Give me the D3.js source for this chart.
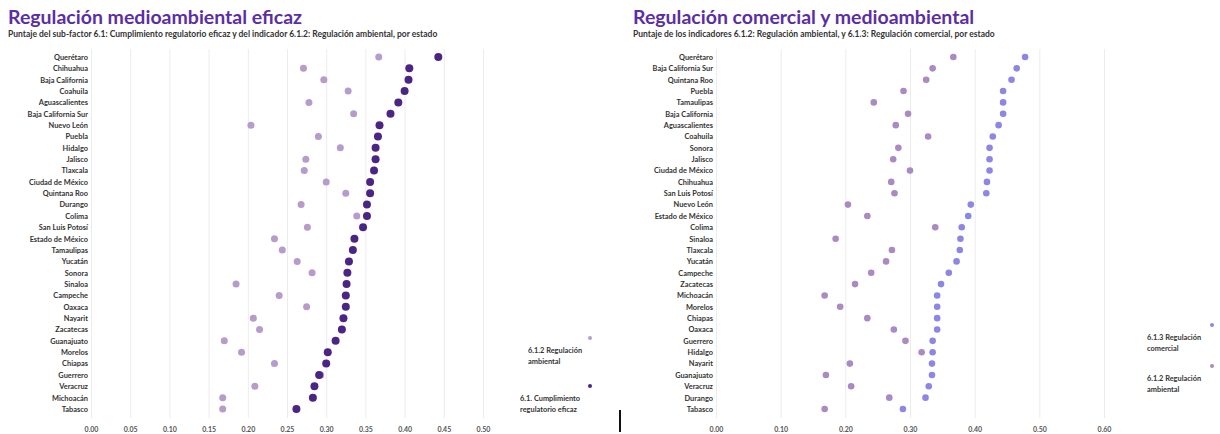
<!DOCTYPE html>
<html>
<head>
<meta charset="utf-8">
<script src="https://cdn.jsdelivr.net/npm/d3@7"></script>
<style>
  body { margin: 0; background: #fff; }
  svg { font-family: Lato, "Noto Sans", sans-serif; }
</style>
</head>
<body>
<div id="chart"></div>
<script>
// Datos: panel izquierdo (ordenado por 6.1)
var leftStates = ["Querétaro", "Chihuahua", "Baja California", "Coahuila", "Aguascalientes",
  "Baja California Sur", "Nuevo León", "Puebla", "Hidalgo", "Jalisco", "Tlaxcala",
  "Ciudad de México", "Quintana Roo", "Durango", "Colima", "San Luis Potosí",
  "Estado de México", "Tamaulipas", "Yucatán", "Sonora", "Sinaloa", "Campeche", "Oaxaca",
  "Nayarit", "Zacatecas", "Guanajuato", "Morelos", "Chiapas", "Guerrero", "Veracruz",
  "Michoacán", "Tabasco"];
var leftCumplimiento = [0.443, 0.406, 0.405, 0.400, 0.392, 0.382, 0.368, 0.366, 0.363, 0.363,
  0.361, 0.356, 0.356, 0.352, 0.352, 0.347, 0.336, 0.334, 0.329, 0.327, 0.326, 0.325, 0.325,
  0.322, 0.320, 0.312, 0.302, 0.300, 0.291, 0.285, 0.283, 0.262];
var leftAmbiental = [0.367, 0.271, 0.297, 0.328, 0.278, 0.335, 0.204, 0.290, 0.318, 0.274,
  0.272, 0.300, 0.325, 0.268, 0.339, 0.276, 0.234, 0.244, 0.263, 0.282, 0.185, 0.240, 0.275,
  0.207, 0.215, 0.170, 0.192, 0.234, 0.293, 0.209, 0.168, 0.168];

// Datos: panel derecho (ordenado por 6.1.3)
var rightStates = ["Querétaro", "Baja California Sur", "Quintana Roo", "Puebla", "Tamaulipas",
  "Baja California", "Aguascalientes", "Coahuila", "Sonora", "Jalisco", "Ciudad de México",
  "Chihuahua", "San Luis Potosí", "Nuevo León", "Estado de México", "Colima", "Sinaloa",
  "Tlaxcala", "Yucatán", "Campeche", "Zacatecas", "Michoacán", "Morelos", "Chiapas", "Oaxaca",
  "Guerrero", "Hidalgo", "Nayarit", "Guanajuato", "Veracruz", "Durango", "Tabasco"];
var rightComercial = [0.478, 0.465, 0.457, 0.444, 0.444, 0.444, 0.437, 0.428, 0.423, 0.423,
  0.423, 0.419, 0.418, 0.394, 0.390, 0.380, 0.378, 0.377, 0.372, 0.360, 0.348, 0.342, 0.342,
  0.342, 0.342, 0.335, 0.335, 0.334, 0.334, 0.329, 0.324, 0.289];
var rightAmbiental = [0.367, 0.335, 0.325, 0.290, 0.244, 0.297, 0.278, 0.328, 0.282, 0.274,
  0.300, 0.271, 0.276, 0.204, 0.234, 0.339, 0.185, 0.272, 0.263, 0.240, 0.215, 0.168, 0.192,
  0.234, 0.275, 0.293, 0.318, 0.207, 0.170, 0.209, 0.268, 0.168];

var leftTicks = [0, 0.05, 0.10, 0.15, 0.20, 0.25, 0.30, 0.35, 0.40, 0.45, 0.50];
var rightTicks = [0, 0.10, 0.20, 0.30, 0.40, 0.50, 0.60];

var width = 1220, height = 434;
var svg = d3.select("#chart").append("svg")
  .attr("width", width)
  .attr("height", height);

var gridTop = 49, gridBottom = 418, rowTop = 57, rowBottom = 409;

function drawPanel(p) {
  var x = d3.scaleLinear().domain(p.domain).range(p.xRange);
  var y = d3.scalePoint().domain(p.states).range([rowTop, rowBottom]);

  // titulo y subtitulo
  svg.append("text")
    .attr("x", p.titleX).attr("y", 24)
    .attr("font-size", 19.5).attr("font-weight", 700)
    .attr("fill", "#5b2fa3")
    .text(p.title);
  svg.append("text")
    .attr("x", p.titleX).attr("y", 37)
    .attr("font-size", 8.5).attr("font-weight", 700)
    .attr("fill", "#333")
    .text(p.subtitle);

  // lineas de cuadricula
  var grid = svg.append("g")
    .attr("transform", `translate(0, ${gridBottom})`)
    .call(d3.axisBottom(x).tickValues(p.ticks).tickSize(-(gridBottom - gridTop)).tickFormat(""));
  grid.select(".domain").remove();
  grid.selectAll("line").attr("stroke", "#ececec").attr("stroke-width", 1);

  // eje x
  var xAxis = svg.append("g")
    .attr("transform", `translate(0, ${gridBottom})`)
    .call(d3.axisBottom(x).tickValues(p.ticks).tickSize(0).tickPadding(9).tickFormat(d3.format(".2f")));
  xAxis.select(".domain").remove();
  xAxis.selectAll("text").attr("font-size", 7).attr("fill", "#555")
    .attr("font-family", "Lato, sans-serif").attr("font-weight", 700);

  // eje y (estados)
  var yAxis = svg.append("g")
    .attr("transform", `translate(${p.xRange[0] - 3}, 0)`)
    .call(d3.axisLeft(y).tickSize(0).tickPadding(0));
  yAxis.select(".domain").remove();
  yAxis.selectAll("text").attr("font-size", 7.4).attr("fill", "#333")
    .attr("font-family", "Lato, sans-serif").attr("font-weight", 700);

  // puntos
  p.series.forEach(function(s) {
    svg.append("g").selectAll("circle")
      .data(p.states)
      .join("circle")
      .attr("cx", (d, i) => x(s.values[i]))
      .attr("cy", d => y(d))
      .attr("r", s.r)
      .attr("fill", s.color);
  });

  // leyenda
  p.legend.forEach(function(l) {
    svg.append("circle")
      .attr("cx", l.dotX).attr("cy", l.dotY).attr("r", 2)
      .attr("fill", l.color);
    l.lines.forEach(function(t, i) {
      svg.append("text")
        .attr("x", l.textX).attr("y", l.dotY + 15 + i * 11)
        .attr("font-size", 7.4).attr("font-weight", 700).attr("fill", "#333")
        .text(t);
    });
  });
}

var lightLeft = "#b69cca", darkLeft = "#4b2586";
var lightRight = "#a98ac2", blueRight = "#8d86e4";

drawPanel({
  title: "Regulación medioambiental eficaz",
  subtitle: "Puntaje del sub-factor 6.1: Cumplimiento regulatorio eficaz y del indicador 6.1.2: Regulación ambiental, por estado",
  titleX: 8,
  states: leftStates,
  domain: [0, 0.5],
  xRange: [91, 483],
  ticks: leftTicks,
  series: [
    { values: leftAmbiental, color: lightLeft, r: 3.5 },
    { values: leftCumplimiento, color: darkLeft, r: 4 }
  ],
  legend: [
    { color: lightLeft, dotX: 590, dotY: 338, textX: 528, lines: ["6.1.2 Regulación", "ambiental"] },
    { color: darkLeft, dotX: 590, dotY: 386, textX: 520, lines: ["6.1. Cumplimiento", "regulatorio eficaz"] }
  ]
});

drawPanel({
  title: "Regulación comercial y medioambiental",
  subtitle: "Puntaje de los indicadores 6.1.2: Regulación ambiental, y 6.1.3: Regulación comercial, por estado",
  titleX: 633,
  states: rightStates,
  domain: [0, 0.6],
  xRange: [716, 1104],
  ticks: rightTicks,
  series: [
    { values: rightAmbiental, color: lightRight, r: 3.3 },
    { values: rightComercial, color: blueRight, r: 3.3 }
  ],
  legend: [
    { color: blueRight, dotX: 1212, dotY: 325, textX: 1147, lines: ["6.1.3 Regulación", "comercial"] },
    { color: lightRight, dotX: 1212, dotY: 366, textX: 1147, lines: ["6.1.2 Regulación", "ambiental"] }
  ]
});

// marca vertical junto al eje del panel derecho
svg.append("line")
  .attr("x1", 620).attr("x2", 620)
  .attr("y1", 410).attr("y2", 432)
  .attr("stroke", "#111").attr("stroke-width", 2);
</script>
</body>
</html>
